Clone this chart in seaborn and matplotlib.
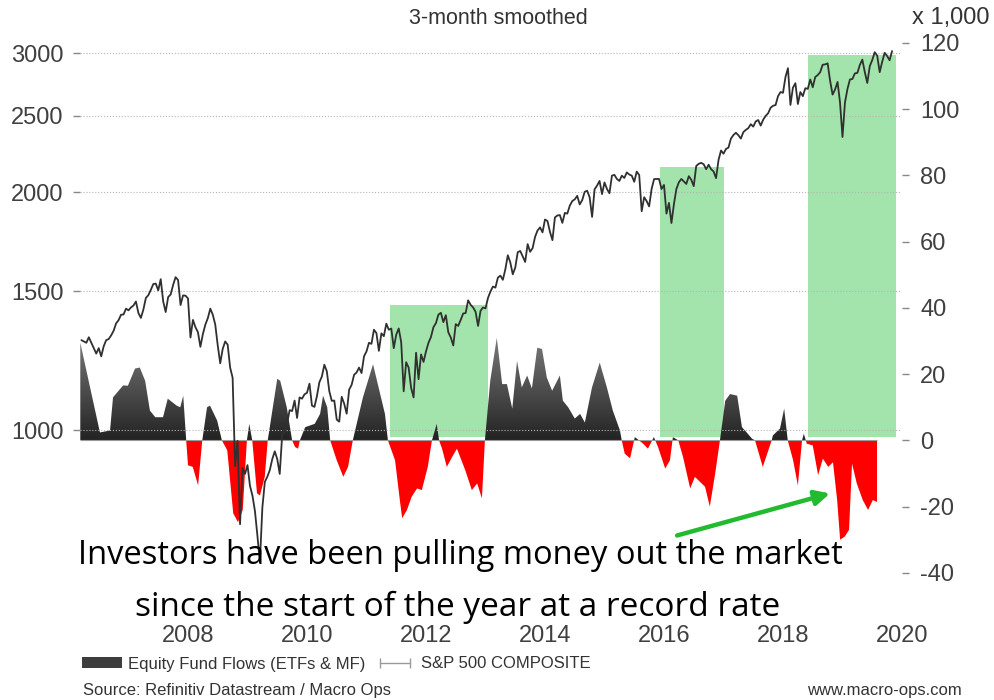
import numpy as np
import matplotlib
matplotlib.use('Agg')
import matplotlib.pyplot as plt
import seaborn as sns
from matplotlib.path import Path
from matplotlib.colors import LinearSegmentedColormap
from matplotlib.patches import Patch
from matplotlib.lines import Line2D
from matplotlib.ticker import NullLocator

sns.set_theme(style='white')
plt.rcParams['font.family'] = ['Liberation Sans', 'DejaVu Sans']

# S&P 500 COMPOSITE, two readings per month (mid, end), Mar 2006 - Oct 2019
spx_2006 = [1300, 1295, 1290, 1311, 1290, 1270, 1250, 1270, 1240, 1277, 1300, 1304,
            1318, 1336, 1365, 1378, 1400, 1401, 1425, 1418]
spx_2007 = [1430, 1438, 1455, 1407, 1387, 1421, 1470, 1482, 1505, 1531, 1533, 1503,
            1553, 1455, 1411, 1474, 1485, 1527, 1562, 1549, 1440, 1481, 1480, 1468]
spx_2008 = [1310, 1379, 1350, 1331, 1275, 1323, 1360, 1386, 1425, 1400, 1360, 1280,
            1215, 1267, 1295, 1283, 1200, 1165, 900, 969, 760, 896, 880, 903]
spx_2009 = [850, 826, 790, 735, 680, 798, 860, 873, 890, 919, 940, 919,
            880, 987, 1000, 1021, 1060, 1057, 1090, 1036, 1100, 1096, 1110, 1115]
spx_2010 = [1145, 1074, 1070, 1104, 1150, 1169, 1210, 1187, 1120, 1089, 1090, 1031,
            1025, 1102, 1080, 1049, 1125, 1141, 1175, 1183, 1200, 1181, 1240, 1258]
spx_2011 = [1290, 1286, 1340, 1327, 1260, 1326, 1315, 1364, 1340, 1345, 1270, 1321,
            1345, 1292, 1120, 1219, 1200, 1131, 1100, 1253, 1160, 1247, 1220, 1258]
spx_2012 = [1290, 1312, 1350, 1366, 1400, 1408, 1370, 1398, 1330, 1310, 1280, 1362,
            1355, 1379, 1405, 1407, 1460, 1441, 1430, 1412, 1355, 1416, 1430, 1426]
spx_2013 = [1470, 1498, 1520, 1515, 1560, 1569, 1550, 1598, 1665, 1631, 1575, 1606,
            1680, 1686, 1660, 1633, 1720, 1682, 1700, 1757, 1790, 1806, 1780, 1848]
spx_2014 = [1840, 1783, 1740, 1859, 1870, 1872, 1830, 1884, 1880, 1924, 1950, 1960,
            1980, 1931, 1955, 2003, 2010, 1972, 1862, 2018, 2040, 2068, 1990, 2059]
spx_2015 = [2020, 1995, 2100, 2105, 2080, 2068, 2100, 2086, 2120, 2107, 2100, 2063,
            2125, 2104, 1893, 1972, 1950, 1920, 2020, 2079, 2080, 2080, 2020, 2044]
spx_2016 = [1880, 1940, 1829, 1932, 2020, 2060, 2080, 2065, 2050, 2097, 2075, 2037,
            2160, 2174, 2180, 2171, 2140, 2168, 2140, 2126, 2085, 2199, 2260, 2239]
spx_2017 = [2270, 2279, 2340, 2364, 2380, 2363, 2340, 2384, 2400, 2412, 2440, 2423,
            2460, 2470, 2430, 2472, 2500, 2519, 2560, 2575, 2580, 2648, 2680, 2674]
spx_2018 = [2800, 2873, 2581, 2714, 2750, 2588, 2680, 2648, 2710, 2705, 2780, 2718,
            2800, 2816, 2840, 2902, 2905, 2914, 2770, 2660, 2700, 2760, 2600, 2351]
spx_2019 = [2600, 2704, 2780, 2784, 2830, 2834, 2900, 2946, 2840, 2752, 2890, 2942,
            3010, 2980, 2840, 2926, 3005, 2977, 2940, 3020]

# Equity fund flows, 3-month smoothed (x 1,000)
flow_year = [
    2006.19, 2006.52, 2006.69, 2006.74, 2006.91, 2006.99, 2007.11, 2007.19, 2007.28, 2007.36,
    2007.45, 2007.58, 2007.66, 2007.81, 2007.87, 2007.92, 2007.97, 2008.00, 2008.08, 2008.17,
    2008.24, 2008.32, 2008.37, 2008.49, 2008.57, 2008.66, 2008.76, 2008.84, 2008.92, 2008.99,
    2009.03, 2009.08, 2009.16, 2009.21, 2009.29, 2009.34, 2009.50, 2009.55, 2009.66, 2009.75,
    2009.80, 2009.85, 2009.88, 2009.97, 2010.13, 2010.22, 2010.27, 2010.34, 2010.39, 2010.50,
    2010.61, 2010.69, 2010.77, 2010.94, 2011.11, 2011.23, 2011.31, 2011.36, 2011.48, 2011.56,
    2011.60, 2011.68, 2011.76, 2011.85, 2011.93, 2012.03, 2012.10, 2012.18, 2012.22, 2012.27,
    2012.35, 2012.44, 2012.52, 2012.66, 2012.77, 2012.86, 2012.94, 2012.99, 2013.08, 2013.19,
    2013.28, 2013.36, 2013.45, 2013.53, 2013.61, 2013.70, 2013.78, 2013.87, 2013.95, 2014.03,
    2014.12, 2014.25, 2014.30, 2014.39, 2014.50, 2014.59, 2014.67, 2014.79, 2014.92, 2015.04,
    2015.14, 2015.26, 2015.29, 2015.34, 2015.43, 2015.51, 2015.65, 2015.73, 2015.83, 2015.90,
    2016.02, 2016.10, 2016.15, 2016.24, 2016.32, 2016.44, 2016.52, 2016.61, 2016.69, 2016.77,
    2016.86, 2016.94, 2017.03, 2017.11, 2017.23, 2017.31, 2017.36, 2017.48, 2017.53, 2017.66,
    2017.81, 2017.83, 2017.95, 2018.02, 2018.08, 2018.17, 2018.25, 2018.32, 2018.35, 2018.40,
    2018.50, 2018.59, 2018.67, 2018.76, 2018.84, 2018.91, 2018.96, 2019.04, 2019.11, 2019.16,
    2019.24, 2019.34, 2019.43, 2019.51, 2019.58]
flow_val = [
    29.5, 2.4, 3, 13, 16.6, 16.5, 21.7, 22, 18, 9,
    7, 7, 12.6, 10.5, 10, 13.5, 0, -7.5, -8, -13.6,
    0, 10, 10.5, 6, 0, -3, -22, -24.7, -21, 0,
    5, 0, -16, -16.6, -11, 0, 18.6, 18, 10, 0,
    -2, -2.5, 0, 4, 5, 8, 13.5, 10, 0, -6,
    -11, -8, 0, 13, 23, 14, 8, 0, -6, -18,
    -23.5, -21, -17, -14.5, -15, -8, 0, 5, 0, -2.5,
    -8, -5, -2.5, -9, -15, -13, -17.5, 0, 18, 31,
    17, 17, 9.6, 24, 16, 19.6, 15.7, 28, 27.6, 19,
    15, 19.6, 12, 10, 6.6, 8, 5.4, 16, 23.5, 16,
    9, 3, 0, -4, -5.4, 1, -1, -2.5, 1, -2,
    -8.5, -6, 1, 0, -5, -14.5, -11, -12.6, -14, -20,
    -10, 0, 12, 14, 13.5, 4, 3, 0.5, 0, -8,
    0, 1.5, 3.6, 9.6, 0, -6, -13.6, 0, 2, -1,
    -1.5, -10.5, -5.5, -8, -6.6, -18, -30, -29, -27, -7,
    -13, -18, -21, -18, -18.6]

# highlighted periods (green boxes, in flow units)
shade_start = [2011.40, 2015.93, 2018.42]
shade_end = [2013.04, 2017.01, 2019.90]
shade_top = [40.9, 82.6, 116.4]
shade_floor = 1.0

year_ticks = [2008, 2010, 2012, 2014, 2016, 2018, 2020]
spx_ticks = [1000, 1500, 2000, 2500, 3000]
flow_ticks = [-40, -20, 0, 20, 40, 60, 80, 100, 120]

spx_val = np.array(spx_2006 + spx_2007 + spx_2008 + spx_2009 + spx_2010 + spx_2011 + spx_2012
                   + spx_2013 + spx_2014 + spx_2015 + spx_2016 + spx_2017 + spx_2018 + spx_2019)
spx_year = 2006 + (np.arange(len(spx_val)) + 5) / 24
fy = np.array(flow_year)
fv = np.array(flow_val)

fig = plt.figure(figsize=(9.95, 7), dpi=100)
ax = fig.add_axes([80 / 995, 93 / 700, 822 / 995, 572 / 700])
ax_spx = ax.twinx()

# green boxes
ax.bar(shade_start, np.array(shade_top) - shade_floor,
       width=np.array(shade_end) - np.array(shade_start), bottom=shade_floor,
       align='edge', color='#a2e4ac', linewidth=0, zorder=1)

# flows: dark gradient above zero, red below
pos = ax.fill_between(fy, fv, 0, where=fv >= 0, interpolate=True,
                      facecolor='none', edgecolor='none', zorder=2)
clip = Path.make_compound_path(*pos.get_paths())
cmap = LinearSegmentedColormap.from_list('flows', ['#232323', '#7c7c7c'])
grad = np.linspace(0, 1, 256).reshape(-1, 1)
im = ax.imshow(grad, extent=[fy[0], fy[-1], 0, 32], origin='lower', aspect='auto',
               cmap=cmap, zorder=2)
im.set_clip_path(clip, transform=ax.transData)
ax.fill_between(fy, fv, 0, where=fv <= 0, interpolate=True, color='#ff0000',
                linewidth=0, zorder=2)
ax.hlines(0, fy[0], fy[-1], color='#9a9a9a', lw=0.8, zorder=3)

ax.annotate('', xy=(2018.79, -16.0), xytext=(2016.22, -28.7),
            arrowprops=dict(arrowstyle='-|>', color='#22bb30', lw=3.2,
                            mutation_scale=22, shrinkA=0, shrinkB=0),
            annotation_clip=False, zorder=4)

# S&P 500 on log scale
sns.lineplot(x=spx_year, y=spx_val, ax=ax_spx, color='#303030', lw=1.3)
ax_spx.set_yscale('log')
ax_spx.set_ylim(597, 3165)
ax_spx.set_yticks(spx_ticks)
ax_spx.set_yticklabels([str(t) for t in spx_ticks])
ax_spx.yaxis.set_minor_locator(NullLocator())
ax_spx.yaxis.tick_left()
ax_spx.tick_params(axis='y', which='major', left=True, right=False, length=5, width=1,
                   color='#888888', pad=7, labelsize=17, labelcolor='#404040')
ax_spx.grid(axis='y', linestyle=':', color='#b5b5b5', lw=0.8)
ax_spx.set_xlabel('')
ax_spx.set_ylabel('')

ax.set_ylim(-50.3, 122.4)
ax.set_yticks(flow_ticks)
ax.set_yticklabels([str(t) for t in flow_ticks])
ax.yaxis.tick_right()
ax.tick_params(axis='y', right=True, left=False, length=5, width=1,
               color='#888888', pad=8, labelsize=17, labelcolor='#404040')
ax.set_xticks(year_ticks)
ax.set_xticklabels([str(t) for t in year_ticks])
ax.tick_params(axis='x', bottom=False, length=0, pad=13, labelsize=17, labelcolor='#404040')
ax.set_xlim(2006.185, 2020.0)

for a in (ax, ax_spx):
    for s in a.spines.values():
        s.set_visible(False)

fig.text(498 / 995, 1 - 18 / 700, '3-month smoothed', ha='center', va='center',
         fontsize=15.5, color='#333333')
fig.text(990 / 995, 1 - 18 / 700, 'x 1,000', ha='right', va='center',
         fontsize=17, color='#333333')

fig.text(460 / 995, 1 - 555 / 700, 'Investors have been pulling money out the market',
         ha='center', va='center', fontsize=23.5, family=['Open Sans', 'DejaVu Sans'],
         color='black')
fig.text(458 / 995, 1 - 607 / 700, 'since the start of the year at a record rate',
         ha='center', va='center', fontsize=24, family=['Open Sans', 'DejaVu Sans'],
         color='black')

handles = [Patch(facecolor='#3d3d3d', edgecolor='none'),
           Line2D([], [], color='#9a9a9a', lw=1, marker='|', markersize=7)]
fig.legend(handles, ['Equity Fund Flows (ETFs & MF)', 'S&P 500 COMPOSITE'],
           loc='center left', bbox_to_anchor=(82 / 995, 1 - 664 / 700), ncol=2,
           frameon=False, fontsize=12, handlelength=2.4, handleheight=0.6,
           handletextpad=0.35, columnspacing=0.6, numpoints=2,
           labelcolor='#333333', borderpad=0, borderaxespad=0)

fig.text(83 / 995, 1 - 683 / 700, 'Source: Refinitiv Datastream / Macro Ops',
         ha='left', va='top', fontsize=12, color='#333333')
fig.text(962 / 995, 1 - 683 / 700, 'www.macro-ops.com',
         ha='right', va='top', fontsize=12, color='#333333')

fig.savefig('out.png', dpi=100)
